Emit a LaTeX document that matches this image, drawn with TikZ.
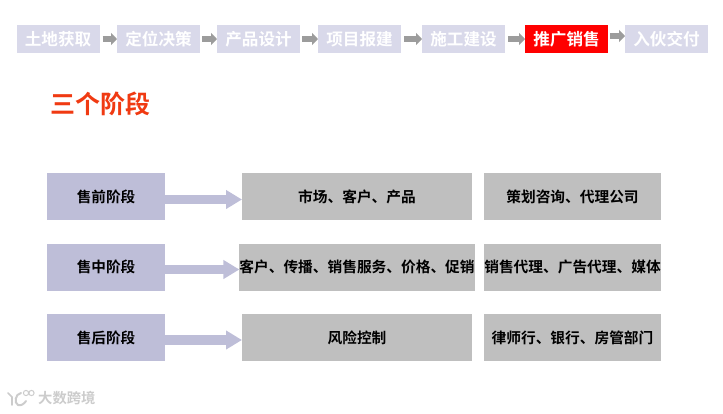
\documentclass[tikz,border=0pt]{standalone}
\usepackage{fontspec}
\setmainfont{Noto Sans CJK SC}[BoldFont={Noto Sans CJK SC Bold}]
\usetikzlibrary{arrows.meta,backgrounds}
\definecolor{topbox}{HTML}{D9D9EA}
\definecolor{stagebox}{HTML}{BEBED8}
\definecolor{graybox}{HTML}{BFBFBF}
\definecolor{titlered}{HTML}{F03A12}
\definecolor{smallarrow}{HTML}{9C9C9C}
\definecolor{wm}{HTML}{CCCCCC}
\tikzset{
  x=1pt,y=-1pt,
  box/.style={draw=none,inner sep=0pt,outer sep=0pt,anchor=center,text centered},
  topnode/.style={box,fill=topbox,minimum width=83,minimum height=28,text=white,font=\fontsize{16.6}{16.6}\selectfont\bfseries},
  activenode/.style={topnode,fill=red},
  stage/.style={box,fill=stagebox,minimum width=118,minimum height=47,font=\fontsize{14.6}{14.6}\selectfont\bfseries},
  midbox/.style={box,fill=graybox,minimum width=230,minimum height=47,font=\fontsize{14.7}{14.7}\selectfont\bfseries},
  rightbox/.style={box,fill=graybox,minimum width=177,minimum height=47,font=\fontsize{14.7}{14.7}\selectfont\bfseries},
  toparrow/.style={draw=smallarrow,line width=6.5,-{Triangle[length=6,width=12]}},
  bigarrow/.style={draw=stagebox,line width=9.5,-{Triangle[length=16,width=18]}},
}
\begin{document}
\begin{tikzpicture}
\useasboundingbox (0,0) rectangle (723,413);
\node[topnode] (t1) at (58,39) {土地获取};
\node[topnode] (t2) at (158.5,39) {定位决策};
\node[topnode] (t3) at (258.5,39) {产品设计};
\node[topnode] (t4) at (359.5,39) {项目报建};
\node[topnode] (t5) at (463.5,39) {施工建设};
\node[activenode] (t6) at (566.5,39) {推广销售};
\node[topnode] (t7) at (666.5,39) {入伙交付};
\begin{scope}[on background layer]
\draw[toparrow] ([xshift=3]t1.east) -- (t2.west);
\draw[toparrow] ([xshift=2]t2.east) -- (t3.west);
\draw[toparrow] ([xshift=2]t3.east) -- (t4.west);
\draw[toparrow] ([xshift=3]t4.east) -- (t5.west);
\draw[toparrow] ([xshift=3]t5.east) -- (t6.west);
\draw[toparrow] ([xshift=2,yshift=3]t6.east) -- ([yshift=3]t7.west);
\end{scope}
\node[inner sep=0pt,anchor=west,text=titlered,font=\fontsize{25}{25}\selectfont\bfseries] (title) at (50,104) {三个阶段};
\node[stage] (s1) at (106,196.5) {售前阶段};
\node[stage] (s2) at (106,267) {售中阶段};
\node[stage] (s3) at (106,337.5) {售后阶段};
\node[midbox] (m1) at (357,196.5) {市场、客户、产品};
\node[midbox] (m2) at (357,267) {客户、传播、销售服务、价格、促销};
\node[midbox] (m3) at (357,337.5) {风险控制};
\node[rightbox] (r1) at (572.5,196.5) {策划咨询、代理公司};
\node[rightbox] (r2) at (572.5,267) {销售代理、广告代理、媒体};
\node[rightbox] (r3) at (572.5,337.5) {律师行、银行、房管部门};
\begin{scope}[on background layer]
\draw[bigarrow] ([yshift=-3]s1.east) -- ([yshift=-3]m1.west);
\draw[bigarrow] ([yshift=-2.5]s2.east) -- ([yshift=-2.5]m2.west);
\draw[bigarrow] ([yshift=-2.5]s3.east) -- ([yshift=-2.5]m3.west);
\end{scope}
% watermark
\draw[wm,line width=1.6,line cap=round] (8,393) -- (12,397) -- (12,405);
\draw[wm,line width=2,line cap=round] (21,393) .. controls (15,394) and (14,403) .. (18,405) .. controls (21,406) and (24,404) .. (26,401);
\draw[wm,line width=1] (26,393) circle (2.6) (31.5,393) circle (2.6);
\node[inner sep=0pt,anchor=west,text=wm,font=\fontsize{14.3}{14.3}\selectfont\bfseries] (wmark) at (38,398) {大数跨境};
\end{tikzpicture}
\end{document}
